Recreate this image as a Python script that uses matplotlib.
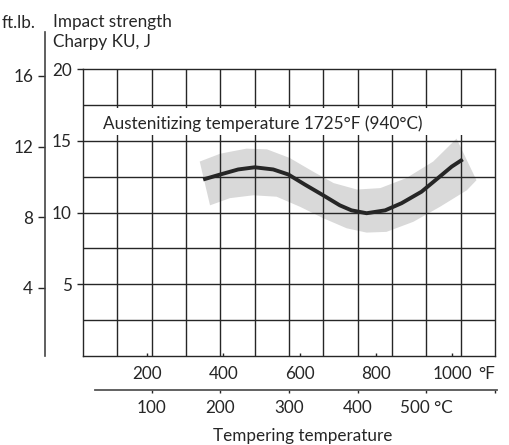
import numpy as np
import matplotlib
matplotlib.use("Agg")
import matplotlib.pyplot as plt
from matplotlib.patches import Rectangle

plt.rcParams['font.family'] = ['Lato', 'DejaVu Sans']
plt.rcParams['font.size'] = 12.3

# tempering temperature (deg C) vs impact strength (J)
temp_c = [175, 200, 226, 250, 277, 299, 323, 348, 374, 391, 413, 440, 464, 493, 517, 537, 553]
impact_j = [12.3, 12.65, 13.0, 13.15, 13.0, 12.65, 11.95, 11.25, 10.5, 10.15, 9.95, 10.15, 10.65, 11.45, 12.4, 13.2, 13.7]

# scatter band, upper and lower edge
band_up_c = [170, 200, 238, 268, 301, 335, 365, 399, 433, 471, 510, 544]
band_up_j = [13.55, 14.1, 14.45, 14.4, 13.8, 12.85, 12.05, 11.6, 11.7, 12.4, 13.55, 15.15]
band_lo_c = [185, 214, 248, 282, 316, 350, 384, 413, 442, 481, 520, 559, 573]
band_lo_j = [10.5, 11.0, 11.2, 11.1, 10.4, 9.6, 8.9, 8.6, 8.65, 9.35, 10.4, 11.55, 12.25]

f_ticks = [200, 400, 600, 800, 1000]
c_ticks = [100, 200, 300, 400, 500, 600]
c_labels = ['100', '200', '300', '400', '500 °C', '']
j_ticks = [5, 10, 15, 20]
ftlb_ticks = [4, 8, 12, 16]

note = 'Austenitizing temperature 1725°F (940°C)'

def f2c(f):
    return (np.asarray(f, dtype=float) - 32) * 5 / 9

ink = '#262626'
W, H = 510, 445
fig = plt.figure(figsize=(W / 100, H / 100), dpi=100)

ax = fig.add_axes([83 / W, (H - 356) / H, 412 / W, 287 / H])
ax.set_xlim(0, 600)
ax.set_ylim(0, 20)

for x in np.arange(50, 600, 50):
    ax.axvline(x, color=ink, lw=1.0, zorder=1)
for y in np.arange(2.5, 20, 2.5):
    ax.axhline(y, color=ink, lw=1.0, zorder=1)

ax.fill(band_up_c + band_lo_c[::-1], band_up_j + band_lo_j[::-1],
        color='#d9d9d9', lw=0, zorder=0.5)
ax.plot(temp_c, impact_j, color=ink, lw=2.8, solid_capstyle='butt', zorder=3)

ax.add_patch(Rectangle((0, 15.4), 600, 1.85, facecolor='white', edgecolor='none', zorder=1.5))
ax.text(29, 15.8, note, ha='left', va='baseline', color=ink, zorder=4)

for s in ax.spines.values():
    s.set_color(ink)
    s.set_linewidth(1.0)

ax.set_yticks(j_ticks)
ax.tick_params(axis='y', direction='out', length=4.5, width=1, color=ink,
               pad=3.5, labelcolor=ink)
ax.set_xticks(f2c(f_ticks))
ax.set_xticklabels([str(v) for v in f_ticks])
ax.tick_params(axis='x', direction='in', length=2.5, width=1, color=ink,
               pad=7, labelcolor=ink)
ax.annotate('°F', xy=(f2c(1000), 0), xycoords='data', xytext=(18.5, -7),
            textcoords='offset points', ha='left', va='top', color=ink,
            annotation_clip=False)

sec = ax.secondary_xaxis(-34 / 287)
sec.set_xticks(c_ticks)
sec.set_xticklabels(c_labels)
sec.spines['bottom'].set_bounds(17, 603)
sec.spines['bottom'].set_color('#555555')
sec.spines['bottom'].set_linewidth(1.3)
sec.tick_params(axis='x', direction='out', length=2.5, width=1, color=ink,
                pad=5, labelcolor=ink)

# outer ft.lb. scale
ax2 = fig.add_axes([45 / W, (H - 356) / H, 0.001, 324 / H])
ax2.set_ylim(0.15, 18.49)
ax2.set_xlim(0, 1)
ax2.patch.set_visible(False)
for k in ['top', 'right', 'bottom']:
    ax2.spines[k].set_visible(False)
ax2.spines['left'].set_color('#444444')
ax2.spines['left'].set_linewidth(1.2)
ax2.set_xticks([])
ax2.set_yticks(ftlb_ticks)
ax2.tick_params(axis='y', direction='out', length=5, width=1, color=ink,
                pad=3.5, labelcolor=ink)

fig.text(2 / W, 1 - 28 / H, 'ft.lb.', ha='left', va='baseline', color=ink)
fig.text(53 / W, 1 - 27 / H, 'Impact strength', ha='left', va='baseline', color=ink)
fig.text(53 / W, 1 - 47 / H, 'Charpy KU, J', ha='left', va='baseline', color=ink)
fig.text(303 / W, 4 / H, 'Tempering temperature', ha='center', va='baseline', color=ink)

fig.savefig('out.png', dpi=100)
